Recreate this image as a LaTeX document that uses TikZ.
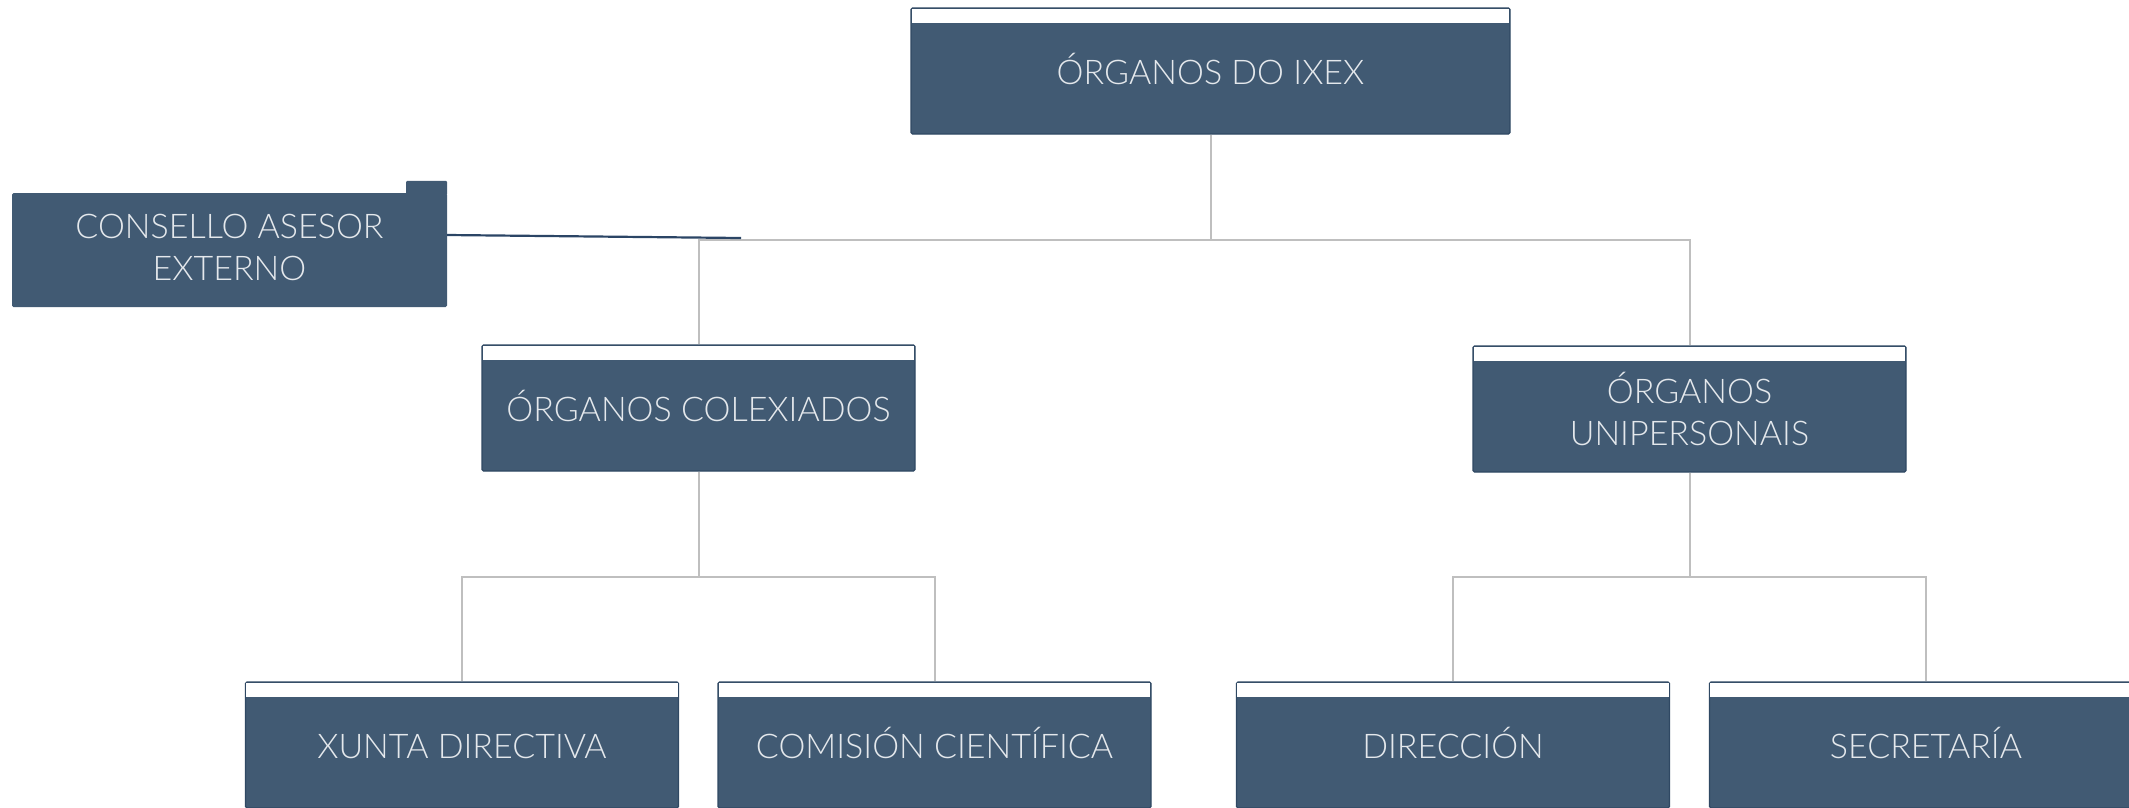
\documentclass[tikz,border=0pt]{standalone}
\usepackage{fontspec}
\IfFontExistsTF{Lato Light}{\setmainfont{Lato Light}}{\setmainfont{Lato}}
\definecolor{boxfill}{HTML}{415A73}
\definecolor{boxedge}{HTML}{2F4863}
\definecolor{linkgray}{HTML}{BFBFBF}
\definecolor{linknavy}{HTML}{2B4565}
\definecolor{txt}{HTML}{E4E8EC}
\begin{document}
\begin{tikzpicture}[x=1pt,y=-1pt,
  orgbox/.style={rectangle, fill=boxfill, draw=boxedge, line width=1.2pt,
    rounded corners=1.5pt, minimum width=433pt, minimum height=126pt,
    inner sep=0pt, text=txt, font=\fontsize{34}{42}\selectfont, align=center},
  oneline/.style={text height=27pt, text depth=0pt},
  band/.style={fill=white},
  link/.style={draw=linkgray, line width=2pt},
  navylink/.style={draw=linknavy, line width=2.2pt}]
\useasboundingbox (0,0) rectangle (2129,807);
% boxes
\node[orgbox, oneline, minimum width=599pt] (top) at (1210.5,71) {ÓRGANOS DO IXEX};
\node[orgbox, oneline] (colex) at (698.5,408) {ÓRGANOS COLEXIADOS};
\node[orgbox] (unip) at (1689.5,409) {ÓRGANOS\\UNIPERSONAIS};
\node[orgbox, oneline] (xunta) at (462,745) {XUNTA DIRECTIVA};
\node[orgbox, oneline] (comis) at (934.5,745) {COMISIÓN CIENTÍFICA};
\node[orgbox, oneline] (direc) at (1453,745) {DIRECCIÓN};
\node[orgbox, oneline] (secre) at (1926,745) {SECRETARÍA};
% white bands
\foreach \b in {top,colex,unip,xunta,comis,direc,secre}{
  \fill[band] ([xshift=1.4pt,yshift=-1.4pt]\b.north west) rectangle ([xshift=-1.4pt,yshift=-16pt]\b.north east);
}
% consello
\node[rectangle, fill=boxfill, rounded corners=1.5pt, minimum width=435pt,
  minimum height=114pt, inner sep=0pt] (cons) at (229.5,250) {};
\fill[boxfill, rounded corners=1.2pt] ([xshift=-41pt,yshift=-2pt]cons.north east) rectangle ([yshift=12pt]cons.north east);
\node[text=txt, font=\fontsize{34}{42}\selectfont, align=center] (constext) at (229.5,247) {CONSELLO ASESOR\\EXTERNO};
% connectors
\coordinate (j1) at (0,240);
\coordinate (j2) at (0,577);
\draw[link] (top.south) -- (top.south |- j1);
\draw[link] (colex.north) -- (colex.north |- j1) -| (unip.north);
\draw[link] (colex.south) -- (colex.south |- j2);
\draw[link] (xunta.north) -- (xunta.north |- j2) -| (comis.north);
\draw[link] (unip.south) -- (unip.south |- j2);
\draw[link] (direc.north) -- (direc.north |- j2) -| (secre.north);
\coordinate (consend) at (741,238);
\draw[navylink] ([yshift=15pt]cons.east) -- (consend);
\end{tikzpicture}
\end{document}
